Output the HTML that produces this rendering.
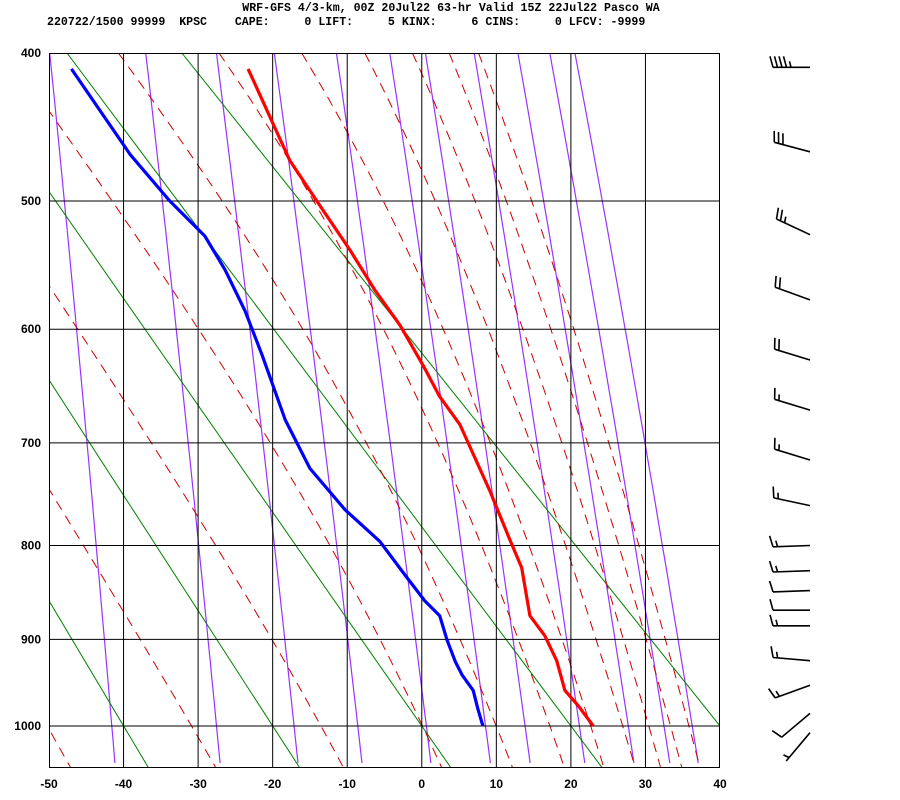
<!DOCTYPE html>
<html><head><meta charset="utf-8"><style>
html,body{margin:0;padding:0;background:#fff;}
svg{display:block;}
.hdr{font-family:"Liberation Mono",monospace;font-weight:bold;font-size:11.6px;fill:#000;white-space:pre;}
.lbl{font-family:"Liberation Sans",sans-serif;font-weight:bold;font-size:12px;fill:#000;}
</style></head><body>
<svg id="chart" width="900" height="800" viewBox="0 0 900 800" xmlns="http://www.w3.org/2000/svg">
<text class="hdr" x="451" y="11" text-anchor="middle" xml:space="preserve">WRF-GFS 4/3-km, 00Z 20Jul22 63-hr Valid 15Z 22Jul22 Pasco WA</text>
<text class="hdr" x="47" y="25" xml:space="preserve">220722/1500 99999  KPSC    CAPE:     0 LIFT:     5 KINX:     6 CINS:     0 LFCV: -9999</text>
<defs><clipPath id="plotclip"><rect x="49" y="53" width="671" height="715"/></clipPath></defs>
<g id="bg" clip-path="url(#plotclip)"></g>
<g id="grid"></g>
<g id="snd" clip-path="url(#plotclip)"></g>
<g id="axes"></g>
<g id="barbs"></g>
</svg>
<script>
// ---- data ----
const tempPressure = [410,471,503,537,568,597,631,658,683,745,794,823,874,896,924,958,976,1000];
const tempValues   = [-23.3,-17.7,-13.7,-9.6,-6.3,-2.9,0.2,2.4,5.1,9.1,11.8,13.4,14.5,16.5,18.1,19.2,21.0,23.0];
const dewPressure  = [410,467,500,526,552,585,622,679,724,764,796,830,858,874,901,925,940,958,979,1000];
const dewValues    = [-47.0,-39.1,-33.8,-29.1,-26.4,-23.7,-21.4,-18.3,-15.0,-10.3,-5.6,-2.3,0.4,2.4,3.4,4.5,5.4,6.9,7.5,8.2];
const windPressure = [409,465,525,576,626,670,716,760,800,826,847,868,885,924,952,985,1008];
const windDir      = [270,285,295,290,287,287,287,282,268,268,268,270,270,275,250,230,220];
const windSpeed    = [45,30,25,20,20,15,15,15,15,15,10,10,15,15,15,10,5];
const pressureTicks = [400,500,600,700,800,900,1000];
const tempTicks = [-50,-40,-30,-20,-10,0,10,20,30,40];
const dryAdiabatT1000 = [-140,-120,-100,-80,-60,-40,-20,0,20,40];
const thetaEValues = [223,243,263,283,303,323,343,363,383,403,423];
const mixingRatios = [0.1,0.4,1,2,4,7,10,16,24,32,40];

// ---- axes ----
const K=0.286, X0=49, X1=720, Y0=53, Y1=726;
const SC=(Y1-Y0)/(Math.pow(1000,K)-Math.pow(400,K));
function xT(t){return X0+(t+50)*(X1-X0)/90;}
function yP(p){return Y0+(Math.pow(p,K)-Math.pow(400,K))*SC;}
const NS='http://www.w3.org/2000/svg';
function mk(tag,attrs,parent){const e=document.createElementNS(NS,tag);for(const k in attrs)e.setAttribute(k,attrs[k]);parent.appendChild(e);return e;}
const bg=document.getElementById('bg'),grid=document.getElementById('grid'),snd=document.getElementById('snd'),axes=document.getElementById('axes'),barbs=document.getElementById('barbs');
const PB=1055;
function polyPts(arr){return arr.map(a=>a[0].toFixed(1)+','+a[1].toFixed(1)).join(' ');}
function es(tc){return 6.112*Math.exp(17.67*tc/(tc+243.5));}

// mixing ratio lines
mixingRatios.forEach(w=>{
  const pts=[];
  for(let p=400;p<=PB;p+=15){const e=(w/1000)*p/(0.622+w/1000);const l=Math.log(e/6.112);const t=243.5*l/(17.67-l);pts.push([xT(t),yP(p)]);}
  const el=mk('polyline',{points:polyPts(pts),fill:'none',stroke:'#9933ff','stroke-width':1.2},bg);
  
  
});
// dry adiabats
dryAdiabatT1000.forEach(t0=>{
  const th=t0+273.15;const pts=[];
  [400,PB].forEach(p=>{pts.push([xT(th*Math.pow(p/1000,K)-273.15),yP(p)]);});
  const el=mk('polyline',{points:polyPts(pts),fill:'none',stroke:'#008000','stroke-width':1},bg);
  
  
});
// moist adiabats (theta-e)
function thetaE(T,p){const tc=T-273.15;const e=es(tc);const w=0.622*e/Math.max(p-e,1);return T*Math.pow(1000/p,K)*Math.exp(2.5e6*w/(1004*T));}
thetaEValues.forEach(te=>{
  const pts=[];
  for(let p=400;p<=PB;p+=10){let lo=150,hi=340;for(let i=0;i<40;i++){const m=(lo+hi)/2;if(thetaE(m,p)>te)hi=m;else lo=m;}pts.push([xT((lo+hi)/2-273.15),yP(p)]);}
  const el=mk('polyline',{points:polyPts(pts),fill:'none',stroke:'#cc0000','stroke-width':1,'stroke-dasharray':'10,7'},bg);
  
  
});
// grid
tempTicks.forEach(t=>{
  if(t>-50&&t<40){const el=mk('line',{x1:xT(t),x2:xT(t),y1:Y0,y2:768,stroke:'#000','stroke-width':1},grid);
  
  }
  const tx=mk('text',{x:xT(t),y:788,'text-anchor':'middle',class:'lbl'},axes);tx.textContent=String(t);
  
  
});
pressureTicks.forEach(p=>{
  if(p>400){const el=mk('line',{x1:X0,x2:X1,y1:yP(p),y2:yP(p),stroke:'#000','stroke-width':1},grid);
  
  }
  const tx=mk('text',{x:41,y:yP(p)+4,'text-anchor':'end',class:'lbl'},axes);tx.textContent=String(p);
  
  
});
const fr=mk('rect',{x:X0+0.5,y:Y0+0.5,width:X1-X0-1,height:768-Y0-1,fill:'none',stroke:'#000','stroke-width':1},grid);


// soundings
const tl=mk('polyline',{points:polyPts(tempPressure.map((p,i)=>[xT(tempValues[i]),yP(p)])),fill:'none',stroke:'#ff0000','stroke-width':3.2,'stroke-linejoin':'round'},snd);


const dl=mk('polyline',{points:polyPts(dewPressure.map((p,i)=>[xT(dewValues[i]),yP(p)])),fill:'none',stroke:'#0000ff','stroke-width':3.2,'stroke-linejoin':'round'},snd);


// wind barbs
windPressure.forEach((p,i)=>{
  const bx=810,by=yP(p);const a=windDir[i]*Math.PI/180;
  const ux=Math.sin(a),uy=-Math.cos(a);
  const L=37;const tx=bx+ux*L,ty=by+uy*L;
  let d='M'+bx+','+by.toFixed(1)+' L'+tx.toFixed(1)+','+ty.toFixed(1);
  const px=-uy,py=ux;
  let s=windSpeed[i],k=0;
  while(s>=10){const sx=tx-ux*k*4.5,sy=ty-uy*k*4.5;d+=' M'+sx.toFixed(1)+','+sy.toFixed(1)+' l'+(px*11+ux*3).toFixed(1)+','+(py*11+uy*3).toFixed(1);s-=10;k++;}
  if(s>=5){const off=k*4.5+(k==0?4.5:0);const sx=tx-ux*off,sy=ty-uy*off;d+=' M'+sx.toFixed(1)+','+sy.toFixed(1)+' l'+(px*6+ux*1.5).toFixed(1)+','+(py*6+uy*1.5).toFixed(1);}
  const el=mk('path',{d:d,fill:'none',stroke:'#000','stroke-width':1.6},barbs);
  
  
});
</script>
</body></html>
